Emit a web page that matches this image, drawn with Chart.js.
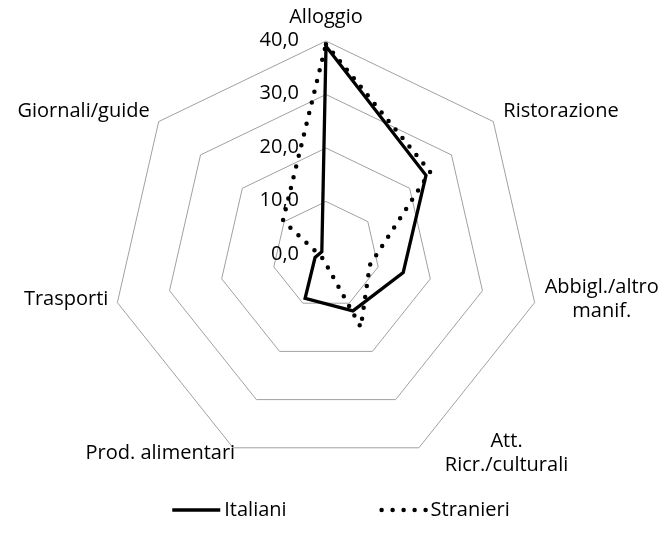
<!DOCTYPE html>
<html>
<head>
<meta charset="utf-8">
<script src="https://cdn.jsdelivr.net/npm/chart.js@4.4.1/dist/chart.umd.min.js"></script>
<style>
  html, body { margin: 0; padding: 0; background: #ffffff; }
  canvas { display: block; }
</style>
</head>
<body>
<canvas id="radar" width="671" height="534"></canvas>
<script>
// Spending categories (multi-line labels as arrays)
const categories = [
  'Alloggio',
  'Ristorazione',
  ['Abbigl./altro', 'manif.'],
  ['Att.', 'Ricr./culturali'],
  'Prod. alimentari',
  'Trasporti',
  'Giornali/guide'
];

// Share of spending (%) per category
const italiani  = [39.0, 23.9, 14.8, 11.6, 9.0, 2.1, 1.0];
const stranieri = [39.4, 24.9, 8.4, 15.0, 1.0, 1.0, 10.3];

const seriesNames = ['Italiani', 'Stranieri'];
const tickLabels = ['0,0', '10,0', '20,0', '30,0', '40,0'];

const FONT_FAMILY = '"Open Sans", "Liberation Sans", sans-serif';
const FONT_SIZE = 20;
const TEXT_COLOR = '#000000';

// Offsets of each category label from its outer vertex
const labelPlacement = [
  { dx: 0,   dy: -24, align: 'center' },
  { dx: 10,  dy: -10, align: 'left' },
  { dx: 10,  dy: -3,  align: 'left' },
  { dx: 26,  dy: 5,   align: 'left' },
  { dx: 2,   dy: 5,   align: 'right' },
  { dx: -9,  dy: -3,  align: 'right' },
  { dx: -9,  dy: -10, align: 'right' }
];

// Category labels around the outer polygon, each line centred in its block
const pointLabelPlugin = {
  id: 'pointLabelPlugin',
  afterDraw(chart) {
    const scale = chart.scales.r;
    const ctx = chart.ctx;
    const lineH = 24;
    ctx.save();
    ctx.font = FONT_SIZE + 'px ' + FONT_FAMILY;
    ctx.fillStyle = TEXT_COLOR;
    ctx.textAlign = 'center';
    ctx.textBaseline = 'middle';
    chart.data.labels.forEach((lab, i) => {
      const lines = Array.isArray(lab) ? lab : [lab];
      const p = scale.getPointPosition(i, scale.drawingArea);
      const pl = labelPlacement[i];
      const maxW = Math.max(...lines.map(l => ctx.measureText(l).width));
      let cx = p.x + pl.dx;
      if (pl.align === 'left') cx += maxW / 2;
      if (pl.align === 'right') cx -= maxW / 2;
      const cy = p.y + pl.dy;
      const top = cy - (lines.length - 1) * lineH / 2;
      lines.forEach((l, k) => ctx.fillText(l, cx, top + k * lineH));
    });
    ctx.restore();
  }
};

// Value labels to the left of the vertical axis
const tickLabelPlugin = {
  id: 'tickLabelPlugin',
  afterDraw(chart) {
    const scale = chart.scales.r;
    const ctx = chart.ctx;
    ctx.save();
    ctx.font = FONT_SIZE + 'px ' + FONT_FAMILY;
    ctx.fillStyle = TEXT_COLOR;
    ctx.textAlign = 'right';
    ctx.textBaseline = 'middle';
    scale.ticks.forEach((t, i) => {
      const d = scale.getDistanceFromCenterForValue(t.value);
      ctx.fillText(tickLabels[i], scale.xCenter - 27, scale.yCenter - d - 1);
    });
    ctx.restore();
  }
};

// Legend row drawn from the datasets' own line styles
const legendPlugin = {
  id: 'legendPlugin',
  afterDraw(chart) {
    const ctx = chart.ctx;
    const sampleLen = 48, gapText = 4, gapItem = 92, y = 510;
    ctx.save();
    ctx.font = FONT_SIZE + 'px ' + FONT_FAMILY;
    const sets = chart.data.datasets;
    const widths = sets.map(ds => ctx.measureText(ds.label).width);
    let total = 0;
    widths.forEach((w, i) => { total += sampleLen + gapText + w + (i ? gapItem : 0); });
    let x = 341 - total / 2;
    sets.forEach((ds, i) => {
      ctx.strokeStyle = ds.borderColor;
      ctx.lineWidth = ds.borderWidth;
      ctx.lineCap = ds.borderCapStyle || 'butt';
      ctx.setLineDash(ds.borderDash || []);
      ctx.beginPath();
      const x0 = ds.borderDash && ds.borderDash.length ? x + 3 : x;
      ctx.moveTo(x0, y);
      ctx.lineTo(x + sampleLen, y);
      ctx.stroke();
      ctx.setLineDash([]);
      ctx.fillStyle = TEXT_COLOR;
      ctx.textAlign = 'left';
      ctx.textBaseline = 'middle';
      ctx.fillText(ds.label, x + sampleLen + gapText, y);
      x += sampleLen + gapText + widths[i] + gapItem;
    });
    ctx.restore();
  }
};

new Chart(document.getElementById('radar'), {
  type: 'radar',
  data: {
    labels: categories,
    datasets: [
      {
        label: seriesNames[0],
        data: italiani,
        borderColor: '#000000',
        borderWidth: 3.3,
        borderJoinStyle: 'miter',
        borderCapStyle: 'butt',
        fill: false,
        pointRadius: 0,
        pointHoverRadius: 0
      },
      {
        label: seriesNames[1],
        data: stranieri,
        borderColor: '#000000',
        borderWidth: 4.5,
        borderDash: [0, 11],
        borderCapStyle: 'round',
        borderJoinStyle: 'round',
        fill: false,
        pointRadius: 0,
        pointHoverRadius: 0
      }
    ]
  },
  options: {
    responsive: false,
    devicePixelRatio: 1,
    animation: false,
    events: [],
    layout: { padding: { top: 41, bottom: 65, left: 0, right: 19 } },
    plugins: {
      legend: { display: false },
      tooltip: { enabled: false },
      title: { display: false }
    },
    scales: {
      r: {
        min: 0,
        max: 40,
        ticks: { stepSize: 10, display: false },
        grid: { color: '#a0a0a0', lineWidth: 1, circular: false },
        angleLines: { display: false },
        pointLabels: { display: false }
      }
    }
  },
  plugins: [pointLabelPlugin, tickLabelPlugin, legendPlugin]
});
</script>
</body>
</html>
